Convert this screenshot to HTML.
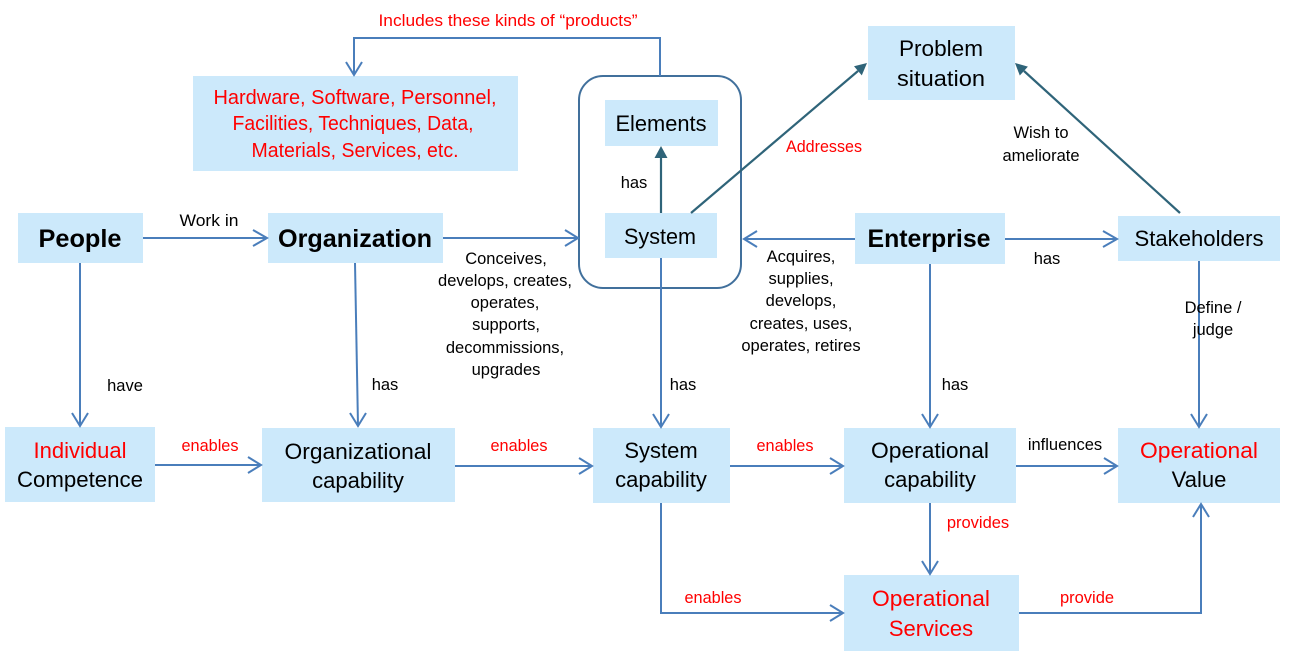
<!DOCTYPE html>
<html><head><meta charset="utf-8"><style>
html,body{margin:0;padding:0;background:#fff;}
svg{display:block;}
text{font-family:"Liberation Sans",Arial,sans-serif;}
.b{fill:#cce9fb;}
.ln{stroke:#4a7ebb;stroke-width:2;fill:none;}
.dk{stroke:#2f6479;stroke-width:2.2;fill:none;}
.t16{font-size:16.5px;}
.t22{font-size:22px;}
.bd{font-size:25px;font-weight:bold;}
.r{fill:#ff0000;}
</style></head><body>
<svg width="1294" height="652" viewBox="0 0 1294 652" xmlns="http://www.w3.org/2000/svg">
<!-- boxes -->
<rect class="b" x="193" y="76" width="325" height="95"/>
<rect class="b" x="605" y="100" width="113" height="46"/>
<rect class="b" x="605" y="213" width="112" height="45"/>
<rect class="b" x="868" y="26" width="147" height="74"/>
<rect class="b" x="18" y="213" width="125" height="50"/>
<rect class="b" x="268" y="213" width="175" height="50"/>
<rect class="b" x="855" y="213" width="150" height="51"/>
<rect class="b" x="1118" y="216" width="162" height="45"/>
<rect class="b" x="5" y="427" width="150" height="75"/>
<rect class="b" x="262" y="428" width="193" height="74"/>
<rect class="b" x="593" y="428" width="137" height="75"/>
<rect class="b" x="844" y="428" width="172" height="75"/>
<rect class="b" x="1118" y="428" width="162" height="75"/>
<rect class="b" x="844" y="575" width="175" height="76"/>
<!-- container -->
<rect x="579" y="76" width="162" height="212" rx="24" ry="24" fill="none" stroke="#41709c" stroke-width="2"/>

<!-- blue connectors -->
<path class="ln" d="M660 76 V38 H354 V75"/>
<path class="ln" d="M346 62 L354 75 L362 62"/>

<path class="ln" d="M143 238 H267"/>
<path class="ln" d="M253 230 L267 238 L253 246"/>

<path class="ln" d="M443 238 H578"/>
<path class="ln" d="M565 230 L578 238 L565 246"/>

<path class="ln" d="M855 239 H744"/>
<path class="ln" d="M757 231 L744 239 L757 247"/>

<path class="ln" d="M1005 239 H1117"/>
<path class="ln" d="M1103 231 L1117 239 L1103 247"/>

<path class="ln" d="M80 263 V426"/>
<path class="ln" d="M72 413 L80 426 L88 413"/>

<path class="ln" d="M355 263 L358 426"/>
<path class="ln" d="M350 413 L358 426 L366 413"/>

<path class="ln" d="M661 258 V427"/>
<path class="ln" d="M653 414 L661 427 L669 414"/>

<path class="ln" d="M930 264 V427"/>
<path class="ln" d="M922 414 L930 427 L938 414"/>

<path class="ln" d="M1199 261 V427"/>
<path class="ln" d="M1191 414 L1199 427 L1207 414"/>

<path class="ln" d="M155 465 H261"/>
<path class="ln" d="M248 457 L261 465 L248 473"/>

<path class="ln" d="M455 466 H592"/>
<path class="ln" d="M579 458 L592 466 L579 474"/>

<path class="ln" d="M730 466 H843"/>
<path class="ln" d="M830 458 L843 466 L830 474"/>

<path class="ln" d="M1016 466 H1117"/>
<path class="ln" d="M1104 458 L1117 466 L1104 474"/>

<path class="ln" d="M930 503 V574"/>
<path class="ln" d="M922 561 L930 574 L938 561"/>

<path class="ln" d="M661 503 V613 H843"/>
<path class="ln" d="M830 605 L843 613 L830 621"/>

<path class="ln" d="M1019 613 H1201 V504"/>
<path class="ln" d="M1193 517 L1201 504 L1209 517"/>

<!-- dark arrows -->
<path class="dk" d="M661 213 V157"/>
<polygon points="661,146 654.5,158 667.5,158" fill="#2f6479"/>
<path class="dk" d="M691 213 L858 71"/>
<polygon points="867,63 861.8,75.4 854,66.2" fill="#2f6479"/>
<path class="dk" d="M1180 213 L1024 71"/>
<polygon points="1015,63 1027.9,66.6 1019.8,75.5" fill="#2f6479"/>

<!-- texts -->
<text class="t16 r" x="508" y="26" text-anchor="middle" textLength="259" lengthAdjust="spacingAndGlyphs">Includes these kinds of “products”</text>
<g class="r" style="font-size:20px" text-anchor="middle">
<text x="355" y="104" textLength="283" lengthAdjust="spacingAndGlyphs">Hardware, Software, Personnel,</text>
<text x="353" y="130" textLength="241" lengthAdjust="spacingAndGlyphs">Facilities, Techniques, Data,</text>
<text x="355" y="157" textLength="207" lengthAdjust="spacingAndGlyphs">Materials, Services, etc.</text>
</g>

<text class="t22" x="661" y="131" text-anchor="middle" textLength="91" lengthAdjust="spacingAndGlyphs">Elements</text>
<text class="t22" x="660" y="244" text-anchor="middle" textLength="72" lengthAdjust="spacingAndGlyphs">System</text>
<text class="t16" x="634" y="188" text-anchor="middle">has</text>
<text class="t16 r" x="824" y="152" text-anchor="middle" textLength="76" lengthAdjust="spacingAndGlyphs">Addresses</text>

<text class="t22" x="941" y="56" text-anchor="middle" textLength="84" lengthAdjust="spacingAndGlyphs">Problem</text>
<text class="t22" x="941" y="86" text-anchor="middle" textLength="88" lengthAdjust="spacingAndGlyphs">situation</text>
<text class="t16" x="1041" y="138" text-anchor="middle">Wish to</text>
<text class="t16" x="1041" y="161" text-anchor="middle">ameliorate</text>

<text class="bd" x="80" y="247" text-anchor="middle" textLength="83" lengthAdjust="spacingAndGlyphs">People</text>
<text class="bd" x="355" y="247" text-anchor="middle" textLength="154" lengthAdjust="spacingAndGlyphs">Organization</text>
<text class="bd" x="929" y="247" text-anchor="middle" textLength="123" lengthAdjust="spacingAndGlyphs">Enterprise</text>
<text class="t22" x="1199" y="246" text-anchor="middle" textLength="129" lengthAdjust="spacingAndGlyphs">Stakeholders</text>
<text class="t16" x="209" y="226" text-anchor="middle" textLength="59" lengthAdjust="spacingAndGlyphs">Work in</text>
<text class="t16" x="1047" y="264" text-anchor="middle">has</text>

<g class="t16" text-anchor="middle">
<text x="506" y="264">Conceives,</text>
<text x="505" y="286">develops, creates,</text>
<text x="505" y="308">operates,</text>
<text x="506" y="330">supports,</text>
<text x="505" y="353">decommissions,</text>
<text x="506" y="375">upgrades</text>
<text x="801" y="262">Acquires,</text>
<text x="801" y="284">supplies,</text>
<text x="801" y="306">develops,</text>
<text x="801" y="329">creates, uses,</text>
<text x="801" y="351">operates, retires</text>
</g>

<text class="t16" x="125" y="391" text-anchor="middle">have</text>
<text class="t16" x="385" y="390" text-anchor="middle">has</text>
<text class="t16" x="683" y="390" text-anchor="middle">has</text>
<text class="t16" x="955" y="390" text-anchor="middle">has</text>
<text class="t16" x="1213" y="313" text-anchor="middle">Define /</text>
<text class="t16" x="1213" y="335" text-anchor="middle">judge</text>

<text class="t22 r" x="80" y="458" text-anchor="middle">Individual</text>
<text class="t22" x="80" y="487" text-anchor="middle" textLength="126" lengthAdjust="spacingAndGlyphs">Competence</text>
<text class="t22" x="358" y="459" text-anchor="middle" textLength="147" lengthAdjust="spacingAndGlyphs">Organizational</text>
<text class="t22" x="358" y="488" text-anchor="middle">capability</text>
<text class="t22" x="661" y="458" text-anchor="middle">System</text>
<text class="t22" x="661" y="487" text-anchor="middle">capability</text>
<text class="t22" x="930" y="458" text-anchor="middle" textLength="118" lengthAdjust="spacingAndGlyphs">Operational</text>
<text class="t22" x="930" y="487" text-anchor="middle">capability</text>
<text class="t22 r" x="1199" y="458" text-anchor="middle" textLength="118" lengthAdjust="spacingAndGlyphs">Operational</text>
<text class="t22" x="1199" y="487" text-anchor="middle">Value</text>
<text class="t22 r" x="931" y="606" text-anchor="middle" textLength="118" lengthAdjust="spacingAndGlyphs">Operational</text>
<text class="t22 r" x="931" y="636" text-anchor="middle">Services</text>

<text class="t16 r" x="210" y="451" text-anchor="middle" textLength="57" lengthAdjust="spacingAndGlyphs">enables</text>
<text class="t16 r" x="519" y="451" text-anchor="middle" textLength="57" lengthAdjust="spacingAndGlyphs">enables</text>
<text class="t16 r" x="785" y="451" text-anchor="middle" textLength="57" lengthAdjust="spacingAndGlyphs">enables</text>
<text class="t16" x="1065" y="450" text-anchor="middle">influences</text>
<text class="t16 r" x="978" y="528" text-anchor="middle">provides</text>
<text class="t16 r" x="713" y="603" text-anchor="middle" textLength="57" lengthAdjust="spacingAndGlyphs">enables</text>
<text class="t16 r" x="1087" y="603" text-anchor="middle">provide</text>
</svg>
</body></html>
